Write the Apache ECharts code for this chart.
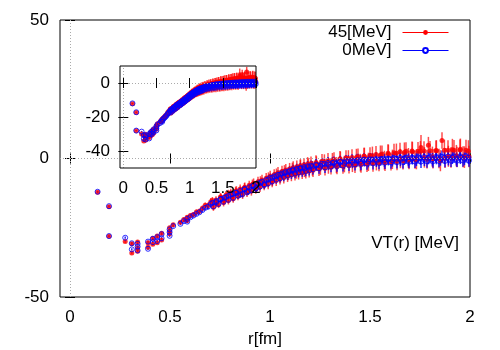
<!DOCTYPE html>
<html>
<head>
<meta charset="utf-8">
<script src="https://cdn.jsdelivr.net/npm/echarts@6/dist/echarts.min.js"></script>
<style>
  html, body { margin: 0; padding: 0; background: #fff; }
  #chart { width: 500px; height: 350px; }
</style>
</head>
<body>
<div id="chart"></div>
<script>
// r [fm] of each lattice point (second block: points along other directions)
const rVals = [
  0.138, 0.195, 0.195, 0.276, 0.309, 0.309, 0.338, 0.338, 0.338, 0.390,
  0.390, 0.414, 0.414, 0.436, 0.436, 0.458, 0.458, 0.498, 0.498, 0.498,
  0.516, 0.552, 0.569, 0.586, 0.586, 0.602, 0.617, 0.632, 0.647, 0.662,
  0.676, 0.690, 0.704, 0.717, 0.730, 0.743, 0.755, 0.768, 0.780, 0.792,
  0.804, 0.816, 0.828, 0.840, 0.851, 0.863, 0.874, 0.885, 0.896, 0.907,
  0.918, 0.929, 0.940, 0.950, 0.960, 0.971, 0.981, 0.991, 1.001, 1.011,
  1.021, 1.031, 1.040, 1.050, 1.060, 1.069, 1.079, 1.088, 1.098, 1.107,
  1.116, 1.125, 1.134, 1.143, 1.152, 1.161, 1.170, 1.179, 1.188, 1.196,
  1.205, 1.215, 1.230, 1.245, 1.260, 1.275, 1.290, 1.305, 1.320, 1.335,
  1.350, 1.365, 1.380, 1.395, 1.410, 1.425, 1.440, 1.455, 1.470, 1.485,
  1.500, 1.515, 1.530, 1.545, 1.560, 1.575, 1.590, 1.605, 1.620, 1.635,
  1.650, 1.665, 1.680, 1.695, 1.710, 1.725, 1.740, 1.755, 1.770, 1.785,
  1.800, 1.815, 1.830, 1.845, 1.860, 1.875, 1.890, 1.905, 1.920, 1.935,
  1.950, 1.965, 1.980, 1.995,
  0.712, 0.732, 0.752, 0.772, 0.792, 0.812, 0.832, 0.852, 0.872, 0.892,
  0.912, 0.932, 0.952, 0.972, 0.992, 1.012, 1.032, 1.052, 1.072, 1.092,
  1.112, 1.132, 1.152, 1.172, 1.192, 1.212, 1.232, 1.252, 1.272, 1.292,
  1.312, 1.332, 1.352, 1.372, 1.392, 1.412, 1.432, 1.452, 1.472, 1.492,
  1.512, 1.532, 1.552, 1.572, 1.592, 1.612, 1.632, 1.652, 1.672, 1.692,
  1.712, 1.732, 1.752, 1.772, 1.792, 1.812, 1.832, 1.852, 1.872, 1.892,
  1.912, 1.932, 1.952, 1.972, 1.992
]

// 45[MeV]
const v45 = [
  -12.2, -17.4, -28.1, -30.0, -30.8, -34.1, -30.1, -32.2, -33.5, -32.0,
  -30.4, -28.8, -31.0, -28.0, -30.4, -27.0, -29.4, -25.0, -26.2, -27.2,
  -23.9, -23.0, -22.0, -21.2, -22.4, -20.6, -20.2, -19.3, -19.0, -18.0,
  -16.9, -17.0, -15.6, -17.6, -15.0, -16.6, -14.0, -15.9, -13.2, -15.2,
  -12.4, -14.5, -11.8, -13.6, -11.0, -13.0, -10.4, -12.3, -9.7, -11.7,
  -9.0, -11.0, -8.4, -10.3, -7.8, -9.7, -7.1, -9.2, -6.4, -8.5,
  -5.9, -7.9, -5.2, -7.4, -4.7, -6.9, -4.2, -6.4, -3.8, -6.0,
  -3.3, -5.7, -3.0, -5.3, -2.6, -5.1, -2.3, -4.8, -2.0, -4.5,
  -1.8, -4.2, -1.4, -3.8, -1.0, -3.5, -0.7, -3.2, -0.4, -3.0,
  -0.1, -2.8, 0.2, -2.6, 0.4, -2.4, 0.7, -2.2, 0.9, -2.0,
  1.1, -1.8, 1.4, -1.6, 1.6, -1.4, 1.9, -1.2, 2.1, -1.0,
  2.4, -0.8, 2.6, -0.6, 2.7, -0.4, 2.6, 4.0, 2.7, -0.2,
  2.8, -0.1, 2.9, 0.0, 6.5, 0.2, 3.0, 0.4, 3.0, 0.5,
  3.1, 0.6, 3.0, 0.7,
  -15.2, -16.3, -13.9, -15.0, -12.8, -13.8, -11.6, -12.4, -10.6, -11.4,
  -9.4, -10.2, -8.3, -9.0, -7.0, -7.8, -5.7, -6.5, -4.6, -5.5,
  -3.8, -4.9, -3.0, -4.2, -2.4, -3.6, -1.8, -3.2, -1.2, -2.7,
  -0.8, -2.4, -0.4, -2.0, 0.0, -1.8, 0.4, -1.5, 0.7, -1.2,
  1.0, -1.0, 1.3, -0.6, 1.6, -0.3, 1.9, 0.0, 2.2, 0.2,
  2.4, -0.3, 2.6, 0.4, 4.8, 0.6, 2.8, -0.8, 3.0, 0.8,
  3.2, 1.0, 3.3, 0.5, 2.6
]
const e45 = [
  0.4, 0.4, 0.4, 0.5, 0.5, 0.5, 0.5, 0.5, 0.5, 0.5,
  0.5, 0.5, 0.5, 0.5, 0.5, 0.5, 0.5, 0.5, 0.5, 0.5,
  0.6, 0.6, 0.7, 0.7, 0.7, 0.8, 0.8, 0.9, 0.9, 1.0,
  1.0, 1.1, 1.3, 1.3, 1.4, 1.3, 1.4, 1.4, 1.5, 1.4,
  1.5, 1.5, 1.6, 1.5, 1.6, 1.6, 1.7, 1.6, 1.7, 1.7,
  1.8, 1.7, 1.8, 1.8, 1.9, 1.8, 1.9, 1.9, 2.0, 1.9,
  2.0, 2.0, 2.1, 2.0, 2.1, 2.1, 2.2, 2.1, 2.2, 2.2,
  2.3, 2.2, 2.3, 2.3, 2.4, 2.3, 2.4, 2.4, 2.5, 2.4,
  2.5, 2.5, 2.6, 2.5, 2.6, 2.6, 2.7, 2.6, 2.7, 2.7,
  2.8, 2.7, 2.8, 2.8, 2.9, 2.8, 2.9, 2.9, 3.0, 2.9,
  3.0, 3.0, 3.1, 3.0, 3.1, 3.1, 3.2, 3.1, 3.2, 3.2,
  3.3, 3.2, 3.3, 3.3, 3.4, 3.3, 3.4, 4.5, 3.5, 3.4,
  3.5, 3.5, 3.6, 3.5, 3.0, 3.6, 3.6, 3.7, 3.7, 3.7,
  3.8, 3.8, 3.8, 3.9,
  1.3, 1.4, 1.4, 1.5, 1.5, 1.6, 1.6, 1.7, 1.7, 1.8,
  1.8, 1.9, 1.9, 2.0, 2.0, 2.1, 2.1, 2.2, 2.2, 2.3,
  2.3, 2.4, 2.4, 2.5, 2.5, 2.6, 2.6, 2.7, 2.7, 2.8,
  2.8, 2.9, 2.9, 3.0, 3.0, 3.1, 3.1, 3.2, 3.2, 3.3,
  3.3, 3.3, 3.4, 3.4, 3.4, 3.5, 3.5, 3.5, 3.6, 3.6,
  3.6, 3.6, 3.7, 3.7, 3.0, 3.7, 3.8, 3.8, 3.8, 3.8,
  3.9, 3.9, 3.9, 3.9, 4.0
]

// 0MeV]
const v0 = [
  -12.0, -17.2, -28.0, -28.6, -30.6, -32.8, -30.8, -31.8, -33.2, -32.6,
  -30.0, -29.0, -30.2, -28.4, -29.8, -27.3, -28.8, -25.6, -26.6, -27.9,
  -24.4, -23.6, -22.6, -21.8, -22.8, -21.2, -20.6, -20.0, -19.4, -18.6,
  -17.8, -17.4, -16.4, -17.3, -15.8, -16.4, -14.6, -15.6, -13.9, -14.9,
  -13.0, -14.2, -12.4, -13.4, -11.7, -12.8, -11.0, -12.1, -10.4, -11.4,
  -9.8, -10.8, -9.0, -10.1, -8.4, -9.5, -7.8, -8.9, -7.0, -8.2,
  -6.5, -7.6, -5.9, -7.1, -5.4, -6.6, -4.9, -6.1, -4.5, -5.7,
  -4.0, -5.4, -3.7, -5.0, -3.4, -4.8, -3.1, -4.5, -2.8, -4.2,
  -2.6, -3.9, -2.2, -3.5, -1.9, -3.2, -1.6, -2.9, -1.4, -2.7,
  -1.1, -2.5, -0.9, -2.3, -0.7, -2.1, -0.6, -1.9, -0.4, -1.8,
  -0.3, -1.7, -0.2, -1.6, -0.1, -1.5, 0.0, -1.4, 0.1, -1.3,
  0.2, -1.3, 0.3, -1.2, 0.3, -1.1, 0.4, -1.1, 0.5, -1.0,
  0.5, -1.0, 0.6, -0.9, 0.6, -0.9, 0.7, -0.8, 0.7, -0.8,
  0.8, -0.7, 0.8, -0.7,
  -16.0, -15.4, -14.8, -14.2, -13.5, -12.9, -12.3, -12.9, -11.2, -11.8,
  -10.0, -10.6, -8.8, -9.3, -7.6, -7.0, -6.4, -5.8, -5.3, -4.9,
  -4.4, -4.2, -3.7, -3.6, -3.1, -2.9, -2.5, -2.6, -2.0, -2.2,
  -1.6, -1.9, -1.3, -1.6, -1.0, -1.3, -0.8, -1.1, -0.6, -0.9,
  -0.4, -0.8, -0.3, -0.7, -0.2, -0.6, -0.1, -0.5, 0.0, -0.5,
  0.1, -0.4, 0.1, -0.4, 0.2, -0.3, 0.2, -0.3, 0.3, -0.2,
  0.3, -0.2, 0.3, -0.1, 0.3
]
const e0 = [
  0.3, 0.3, 0.3, 0.4, 0.4, 0.4, 0.4, 0.4, 0.4, 0.4,
  0.4, 0.4, 0.4, 0.4, 0.4, 0.4, 0.4, 0.4, 0.4, 0.4,
  0.5, 0.5, 0.6, 0.6, 0.6, 0.6, 0.7, 0.7, 0.7, 0.8,
  0.8, 0.9, 1.0, 1.0, 1.0, 1.1, 1.1, 1.1, 1.1, 1.2,
  1.2, 1.2, 1.2, 1.2, 1.3, 1.3, 1.3, 1.3, 1.3, 1.3,
  1.4, 1.4, 1.4, 1.4, 1.4, 1.4, 1.5, 1.5, 1.5, 1.5,
  1.5, 1.5, 1.6, 1.6, 1.6, 1.6, 1.6, 1.7, 1.7, 1.7,
  1.7, 1.7, 1.8, 1.8, 1.8, 1.8, 1.8, 1.9, 1.9, 1.9,
  1.9, 1.9, 2.0, 2.0, 2.0, 2.0, 2.1, 2.1, 2.1, 2.1,
  2.1, 2.2, 2.2, 2.2, 2.2, 2.2, 2.3, 2.3, 2.3, 2.3,
  2.3, 2.3, 2.3, 2.3, 2.3, 2.3, 2.3, 2.3, 2.3, 2.3,
  2.3, 2.3, 2.3, 2.3, 2.3, 2.3, 2.3, 2.3, 2.3, 2.3,
  2.3, 2.3, 2.3, 2.3, 2.3, 2.3, 2.3, 2.3, 2.3, 2.3,
  2.3, 2.3, 2.3, 2.3,
  1.0, 1.0, 1.1, 1.1, 1.2, 1.2, 1.2, 1.2, 1.3, 1.3,
  1.3, 1.4, 1.4, 1.4, 1.5, 1.5, 1.5, 1.6, 1.6, 1.6,
  1.7, 1.7, 1.8, 1.8, 1.8, 1.9, 1.9, 2.0, 2.0, 2.0,
  2.1, 2.1, 2.1, 2.2, 2.2, 2.2, 2.3, 2.3, 2.3, 2.3,
  2.3, 2.3, 2.3, 2.3, 2.3, 2.3, 2.3, 2.3, 2.3, 2.3,
  2.3, 2.3, 2.3, 2.3, 2.3, 2.3, 2.3, 2.3, 2.3, 2.3,
  2.3, 2.3, 2.3, 2.3, 2.3
]

const xTicks = [0, 0.5, 1, 1.5, 2]
const yTicksMain = [-50, 0, 50]
const yTicksInset = [-40, -20, 0]

const FONT = 'Liberation Sans, Arial, sans-serif'
const FS = 17
const RED = '#ff0000'
const BLUE = '#0000ff'

const points = (vals) => rVals.map((r, i) => [r, vals[i]])
const bars = (vals, errs) => rVals.map((r, i) => [r, vals[i] - errs[i], vals[i] + errs[i]])

const errRender = (color) => (params, api) => {
  const p1 = api.coord([api.value(0), api.value(1)])
  const p2 = api.coord([api.value(0), api.value(2)])
  return {
    type: 'line',
    shape: { x1: p1[0], y1: p1[1], x2: p2[0], y2: p2[1] },
    style: { stroke: color, lineWidth: 1.5 }
  }
}

const zeroLines = {
  silent: true,
  symbol: 'none',
  label: { show: false },
  lineStyle: { color: '#aaa', type: [1, 2], width: 1 },
  data: [{ xAxis: 0 }, { yAxis: 0 }]
}

// inset axes sit above the main plot's points (its "2" overlaps them)
const makeX = (grid, pos, labels, margin) => ({
  type: 'value', gridIndex: grid, position: pos, min: -0.05, max: 2,
  z: grid === 1 ? 10 : 0,
  axisLine: { show: false },
  splitLine: { show: false },
  axisTick: { show: true, inside: true, length: 5, customValues: xTicks, lineStyle: { color: '#000' } },
  axisLabel: { show: labels, customValues: xTicks, margin: margin, color: '#000', fontSize: FS, fontFamily: FONT }
})

const makeY = (grid, pos, min, max, ticks, labels, margin) => ({
  type: 'value', gridIndex: grid, position: pos, min: min, max: max,
  z: grid === 1 ? 10 : 0,
  axisLine: { show: false },
  splitLine: { show: false },
  axisTick: { show: true, inside: true, length: 5, customValues: ticks, lineStyle: { color: '#000' } },
  axisLabel: { show: labels, customValues: ticks, margin: margin, color: '#000', fontSize: FS, fontFamily: FONT }
})

const dataSeries = (xi, yi, withZero) => [
  {
    type: 'custom', xAxisIndex: xi, yAxisIndex: yi, clip: true, silent: true,
    renderItem: errRender('rgba(255,0,0,0.7)'), data: bars(v45, e45)
  },
  {
    type: 'scatter', xAxisIndex: xi, yAxisIndex: yi, clip: true, silent: true,
    symbol: 'circle', symbolSize: 5, itemStyle: { color: RED },
    data: points(v45),
    markLine: withZero ? zeroLines : undefined
  },
  {
    type: 'custom', xAxisIndex: xi, yAxisIndex: yi, clip: true, silent: true,
    renderItem: errRender('rgba(0,0,255,0.85)'), data: bars(v0, e0)
  },
  {
    type: 'scatter', xAxisIndex: xi, yAxisIndex: yi, clip: true, silent: true,
    symbol: 'circle', symbolSize: 5,
    itemStyle: { color: 'rgba(0,0,0,0)', borderColor: BLUE, borderWidth: 1 },
    data: points(v0)
  }
]

const chart = echarts.init(document.getElementById('chart'), null, { renderer: 'canvas' })
chart.setOption({
  animation: false,
  backgroundColor: '#fff',
  grid: [
    {
      left: 60, top: 20, right: 30, bottom: 53, outerBoundsMode: 'none', containLabel: false,
      show: true, borderColor: '#000', borderWidth: 1, backgroundColor: 'transparent'
    },
    {
      left: 120, top: 66, width: 136, height: 102, outerBoundsMode: 'none', containLabel: false,
      show: true, borderColor: '#000', borderWidth: 1, backgroundColor: 'transparent', z: 10
    }
  ],
  xAxis: [
    Object.assign(makeX(0, 'bottom', true, 12), {
      name: 'r[fm]', nameLocation: 'middle', nameGap: 33,
      nameTextStyle: { color: '#000', fontSize: FS, fontFamily: FONT }
    }),
    makeX(0, 'top', false, 8),
    makeX(1, 'bottom', true, 12),
    makeX(1, 'top', false, 8)
  ],
  yAxis: [
    makeY(0, 'left', -50, 50, yTicksMain, true, 11),
    makeY(0, 'right', -50, 50, yTicksMain, false, 8),
    makeY(1, 'left', -50, 10, yTicksInset, true, 10),
    makeY(1, 'right', -50, 10, yTicksInset, false, 8)
  ],
  legend: {
    orient: 'vertical', right: 51, top: 24, padding: 0,
    align: 'right', itemWidth: 46, itemHeight: 6, itemGap: 1,
    lineStyle: { width: 1 },
    textStyle: { color: '#000', fontSize: FS, fontFamily: FONT, padding: [0, 6, 0, 0] },
    data: [
      { name: '45[MeV]', itemStyle: { borderWidth: 0 } },
      { name: '0MeV]', itemStyle: { borderWidth: 1 } }
    ]
  },
  graphic: [
    {
      type: 'text', right: 41, top: 235,
      style: { text: 'VT(r) [MeV]', fill: '#000', font: FS + 'px ' + FONT }
    }
  ],
  series: [
    ...dataSeries(0, 0, true),
    ...dataSeries(2, 2, true),
    {
      name: '45[MeV]', type: 'line', xAxisIndex: 0, yAxisIndex: 0, data: [],
      symbol: 'circle', symbolSize: 5, itemStyle: { color: RED }, lineStyle: { color: RED, width: 1 }
    },
    {
      name: '0MeV]', type: 'line', xAxisIndex: 0, yAxisIndex: 0, data: [],
      symbol: 'emptyCircle', symbolSize: 5, itemStyle: { color: BLUE, borderWidth: 1 }, lineStyle: { color: BLUE, width: 1 }
    }
  ]
})
</script>
</body>
</html>
